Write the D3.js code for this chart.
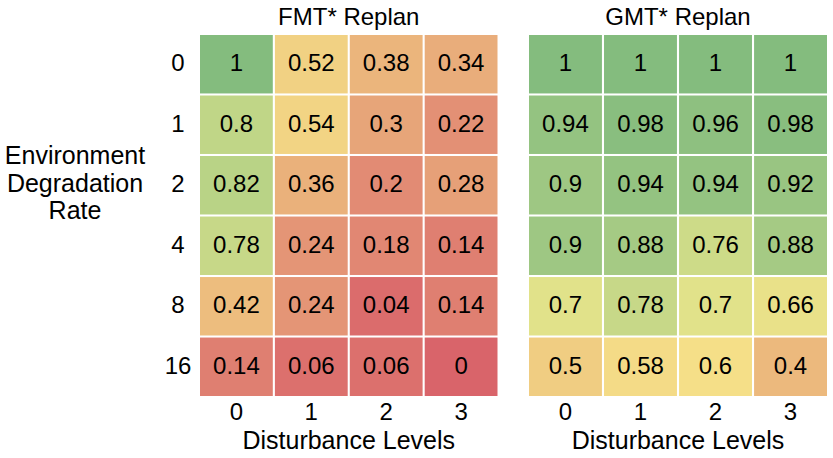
<!DOCTYPE html>
<html>
<head>
<meta charset="utf-8">
<script src="https://cdn.jsdelivr.net/npm/d3@7"></script>
<style>
  body { margin: 0; background: #fff; }
  svg text { font-family: "Liberation Sans", Arial, Helvetica, sans-serif; fill: #000; }
</style>
</head>
<body>
<div id="chart"></div>
<script>
// data
const rateLabels = ["0", "1", "2", "4", "8", "16"];
const disturbLabels = ["0", "1", "2", "3"];
const panelTitles = ["FMT* Replan", "GMT* Replan"];

const fmtValues = [
    [1, 0.52, 0.38, 0.34],
    [0.8, 0.54, 0.3, 0.22],
    [0.82, 0.36, 0.2, 0.28],
    [0.78, 0.24, 0.18, 0.14],
    [0.42, 0.24, 0.04, 0.14],
    [0.14, 0.06, 0.06, 0]
];
const gmtValues = [
    [1, 1, 1, 1],
    [0.94, 0.98, 0.96, 0.98],
    [0.9, 0.94, 0.94, 0.92],
    [0.9, 0.88, 0.76, 0.88],
    [0.7, 0.78, 0.7, 0.66],
    [0.5, 0.58, 0.6, 0.4]
];

// muted red -> yellow -> green
const colorStops = [0, 0.2, 0.3, 0.4, 0.5, 0.6, 0.7, 0.8, 0.9, 1];
const colorRange = ["#d9646a", "#e28b74", "#e7a579", "#ecb97d", "#f0cd82",
                    "#f5df88", "#e1e28a", "#c0d687", "#9ec783", "#84bc7e"];

const width = 833, height = 458;
const fs = 24, labelFs = 25;

const svg = d3.select("#chart").append("svg")
    .attr("width", width)
    .attr("height", height);

const color = d3.scaleLinear().domain(colorStops).range(colorRange);

const y = d3.scaleBand()
    .domain(rateLabels)
    .range([35, 396])
    .paddingInner(0.034);

const panels = [
    { values: fmtValues, x0: 200, x1: 497.5, title: panelTitles[0] },
    { values: gmtValues, x0: 529, x1: 827, title: panelTitles[1] }
];

panels.forEach(p => {
    const x = d3.scaleBand()
        .domain(disturbLabels)
        .range([p.x0, p.x1])
        .paddingInner(0.028);
    const g = svg.append("g");

    const cells = p.values.flatMap((row, i) =>
        row.map((v, j) => ({ r: rateLabels[i], c: disturbLabels[j], v })));

    g.selectAll("rect").data(cells).join("rect")
        .attr("x", d => x(d.c))
        .attr("y", d => y(d.r))
        .attr("width", x.bandwidth())
        .attr("height", y.bandwidth())
        .attr("fill", d => color(d.v));

    g.selectAll("text.val").data(cells).join("text")
        .attr("class", "val")
        .attr("x", d => x(d.c) + x.bandwidth() / 2)
        .attr("y", d => y(d.r) + y.bandwidth() / 2)
        .attr("dy", "0.3em")
        .attr("text-anchor", "middle")
        .attr("font-size", fs)
        .text(d => d3.format("~g")(d.v));

    // title
    g.append("text")
        .attr("x", (p.x0 + p.x1) / 2)
        .attr("y", 25)
        .attr("text-anchor", "middle")
        .attr("font-size", fs)
        .text(p.title);

    // x ticks
    g.selectAll("text.xt").data(disturbLabels).join("text")
        .attr("class", "xt")
        .attr("x", d => x(d) + x.bandwidth() / 2)
        .attr("y", 420)
        .attr("text-anchor", "middle")
        .attr("font-size", fs)
        .text(d => d);

    g.append("text")
        .attr("x", (p.x0 + p.x1) / 2)
        .attr("y", 449)
        .attr("text-anchor", "middle")
        .attr("font-size", labelFs)
        .text("Disturbance Levels");
});

// y ticks
svg.selectAll("text.yt").data(rateLabels).join("text")
    .attr("class", "yt")
    .attr("x", 178)
    .attr("y", d => y(d) + y.bandwidth() / 2)
    .attr("dy", "0.3em")
    .attr("text-anchor", "middle")
    .attr("font-size", fs)
    .text(d => d);

// y label
const ylab = svg.append("text")
    .attr("text-anchor", "middle")
    .attr("font-size", labelFs);
["Environment", "Degradation", "Rate"].forEach((t, i) => {
    ylab.append("tspan")
        .attr("x", 75)
        .attr("y", 164 + i * 27.5)
        .text(t);
});
</script>
</body>
</html>
